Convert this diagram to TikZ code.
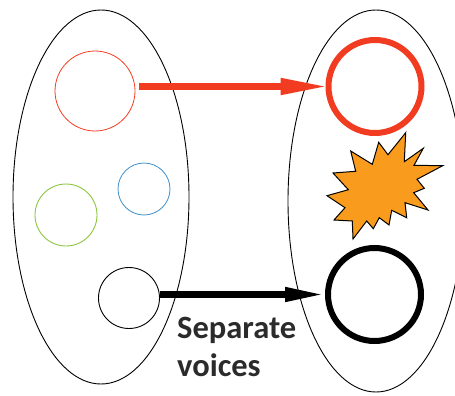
\documentclass[tikz,border=0pt]{standalone}
\usepackage{fontspec}
\setmainfont{Carlito}
\usetikzlibrary{arrows.meta}
\definecolor{redc}{HTML}{F23C22}
\definecolor{bluec}{HTML}{3F8FCB}
\definecolor{greenc}{HTML}{8CC63F}
\definecolor{orangec}{HTML}{F99B1C}
\definecolor{textc}{HTML}{2B2B2B}
\tikzset{
  voice/.style={circle,draw,inner sep=0pt,minimum size=#1},
  set/.style={draw=black,line width=0.9pt},
  redarrow/.style={draw=redc,line width=7.5pt,shorten >=-5pt,-{Triangle[length=50pt,width=15pt]}},
  blackarrow/.style={draw=black,line width=7pt,shorten >=-2pt,-{Triangle[length=42pt,width=13pt]}},
  lbl/.style={font=\bfseries\fontsize{32.5}{38}\selectfont,text=textc,align=left,inner sep=0pt,anchor=north west}
}
\begin{document}
\begin{tikzpicture}[x=1pt,y=-1pt]
\useasboundingbox (0,0) rectangle (455,396);
\clip (0,0) rectangle (455,396);
\draw[set] (101,197) ellipse [x radius=88,y radius=187];
\draw[set] (376,201) ellipse [x radius=88,y radius=191];
\node[voice=80pt,draw=redc,line width=0.8pt] (r1) at (95,91) {};
\node[voice=52pt,draw=bluec,line width=0.8pt] (b1) at (144,189) {};
\node[voice=62pt,draw=greenc,line width=0.9pt] (g1) at (66,215) {};
\node[voice=61pt,draw=black,line width=0.9pt] (k1) at (129,298) {};
\node[voice=93pt,draw=redc,line width=6pt] (r2) at (375,86.5) {};
\node[voice=93pt,draw=black,line width=6pt] (k2) at (374.5,294.5) {};
\draw[fill=orangec,draw=black,line width=1pt,line join=miter,miter limit=20]
 (405.7,132.7)--(404.3,161.7)--(423.3,148.3)--(414,165.3)--(442.7,165.7)--(417,179.3)--(424.3,188.3)--(413.7,192.7)--(428,210)--(405,202.7)--(406.7,217.7)--(391.7,210.3)--(389,225)--(379.3,217.7)--(373.3,228.7)--(366.7,221)--(353,239)--(352.3,221)--(334,220)--(345,207.7)--(327,195.7)--(348.3,189.7)--(333,173)--(355.7,171.3)--(350.7,151)--(372.3,164.3)--(378.7,142.3)--(388,154.7)--cycle;
\coordinate (rs) at ([xshift=4pt]r1.east |- r2.west);
\draw[redarrow] (rs) -- (r2.west);
\coordinate (ks) at (k1.east |- k2.west);
\draw[blackarrow] (ks) -- (k2.west);
\node[lbl] (t) at (177,317) {Separate\\voices};
\end{tikzpicture}
\end{document}
